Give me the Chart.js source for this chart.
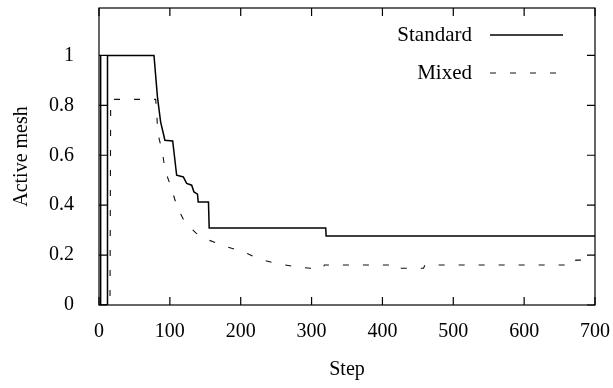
<!DOCTYPE html>
<html>
<head>
<meta charset="utf-8">
<script src="https://cdn.jsdelivr.net/npm/chart.js@4/dist/chart.umd.min.js"></script>
<style>
  html, body { margin: 0; padding: 0; background: #fff; }
  #wrap { position: relative; width: 613px; height: 388px; }
</style>
</head>
<body>
<div id="wrap"><canvas id="meshChart"></canvas></div>
<script>
const stdSteps = [0, 2.3, 2.3, 2.3, 12, 12, 77.6, 82.5, 87, 90.8, 93, 104, 109.6, 119, 123.7, 130.8, 134, 139, 140, 154.5, 155.5, 320, 320.5, 700];
const stdValues = [0, 0, 1, 0, 0, 1, 1, 0.833, 0.733, 0.687, 0.66, 0.657, 0.52, 0.513, 0.487, 0.48, 0.453, 0.444, 0.413, 0.413, 0.309, 0.309, 0.276, 0.276];

const mixSteps = [0, 15.5, 16.5, 80, 81.4, 83, 89, 93.5, 102, 110.5, 121, 137, 155, 180, 204, 223, 246, 272, 298, 316, 318, 414, 416, 458, 460, 671, 673, 700];
const mixValues = [0, 0, 0.824, 0.824, 0.773, 0.687, 0.62, 0.537, 0.47, 0.39, 0.333, 0.288, 0.26, 0.233, 0.214, 0.187, 0.169, 0.156, 0.147, 0.147, 0.16, 0.16, 0.147, 0.147, 0.16, 0.16, 0.18, 0.18];

const xTicks = [0, 100, 200, 300, 400, 500, 600, 700];
const yTicks = [0, 0.2, 0.4, 0.6, 0.8, 1];
const yTickLabels = ["0", "0.2", "0.4", "0.6", "0.8", "1"];

const fontFamily = "'Liberation Serif', 'Times New Roman', serif";
const tickLen = 8;

// frame, inward ticks on all four sides, and the legend
const framePlugin = {
  id: "frame",
  afterDraw(chart) {
    const { ctx, chartArea: a, scales } = chart;
    ctx.save();
    ctx.strokeStyle = "#000";
    ctx.lineWidth = 1.2;
    ctx.strokeRect(a.left, a.top, a.right - a.left, a.bottom - a.top);
    ctx.beginPath();
    xTicks.forEach((v) => {
      const px = scales.x.getPixelForValue(v);
      ctx.moveTo(px, a.bottom);
      ctx.lineTo(px, a.bottom - tickLen);
      ctx.moveTo(px, a.top);
      ctx.lineTo(px, a.top + tickLen);
    });
    yTicks.forEach((v) => {
      const py = scales.y.getPixelForValue(v);
      ctx.moveTo(a.left, py);
      ctx.lineTo(a.left + tickLen, py);
      ctx.moveTo(a.right, py);
      ctx.lineTo(a.right - tickLen, py);
    });
    ctx.stroke();

    // legend
    ctx.font = "21px " + fontFamily;
    ctx.textAlign = "right";
    ctx.textBaseline = "middle";
    ctx.fillStyle = "#000";
    chart.data.datasets.forEach((ds, i) => {
      const y = a.top + 27 + i * 38;
      ctx.fillText(ds.label, a.right - 123, y);
      ctx.beginPath();
      ctx.setLineDash(ds.borderDash || []);
      ctx.lineWidth = ds.borderWidth;
      ctx.strokeStyle = ds.borderColor;
      ctx.moveTo(a.right - 105, y);
      ctx.lineTo(a.right - 32, y);
      ctx.stroke();
    });
    ctx.restore();
  },
};

new Chart(document.getElementById("meshChart"), {
  type: "line",
  data: {
    datasets: [
      {
        label: "Standard",
        data: stdSteps.map((s, i) => ({ x: s, y: stdValues[i] })),
        borderColor: "#000",
        borderWidth: 1.5,
        pointRadius: 0,
        fill: false,
        tension: 0,
      },
      {
        label: "Mixed",
        data: mixSteps.map((s, i) => ({ x: s, y: mixValues[i] })),
        borderColor: "#111",
        borderWidth: 1.1,
        borderDash: [6, 14],
        pointRadius: 0,
        fill: false,
        tension: 0,
      },
    ],
  },
  options: {
    responsive: true,
    maintainAspectRatio: false,
    animation: false,
    layout: { padding: { left: 0, right: 18, top: 8, bottom: 0 } },
    plugins: { legend: { display: false }, tooltip: { enabled: false } },
    scales: {
      x: {
        type: "linear",
        min: 0,
        max: 700,
        grid: { display: false },
        border: { display: false },
        afterBuildTicks: (s) => { s.ticks = xTicks.map((v) => ({ value: v })); },
        afterFit: (s) => { s.height = 83; s.paddingLeft = 0; s.paddingRight = 0; },
        ticks: { color: "#000", padding: 7, font: { family: fontFamily, size: 20 } },
        title: { display: true, text: "Step", color: "#000", padding: { top: 0, bottom: 6 }, font: { family: fontFamily, size: 20 } },
      },
      y: {
        min: 0,
        max: 1.19,
        grid: { display: false },
        border: { display: false },
        afterBuildTicks: (s) => { s.ticks = yTicks.map((v) => ({ value: v })); },
        afterFit: (s) => { s.width = 99; s.paddingTop = 0; s.paddingBottom = 0; },
        ticks: {
          color: "#000",
          padding: 17,
          font: { family: fontFamily, size: 20 },
          callback: (v) => yTickLabels[yTicks.indexOf(v)] ?? "",
        },
        title: { display: true, text: "Active mesh", color: "#000", padding: { top: 10, bottom: 0 }, font: { family: fontFamily, size: 20 } },
      },
    },
  },
  plugins: [framePlugin],
});
</script>
</body>
</html>
